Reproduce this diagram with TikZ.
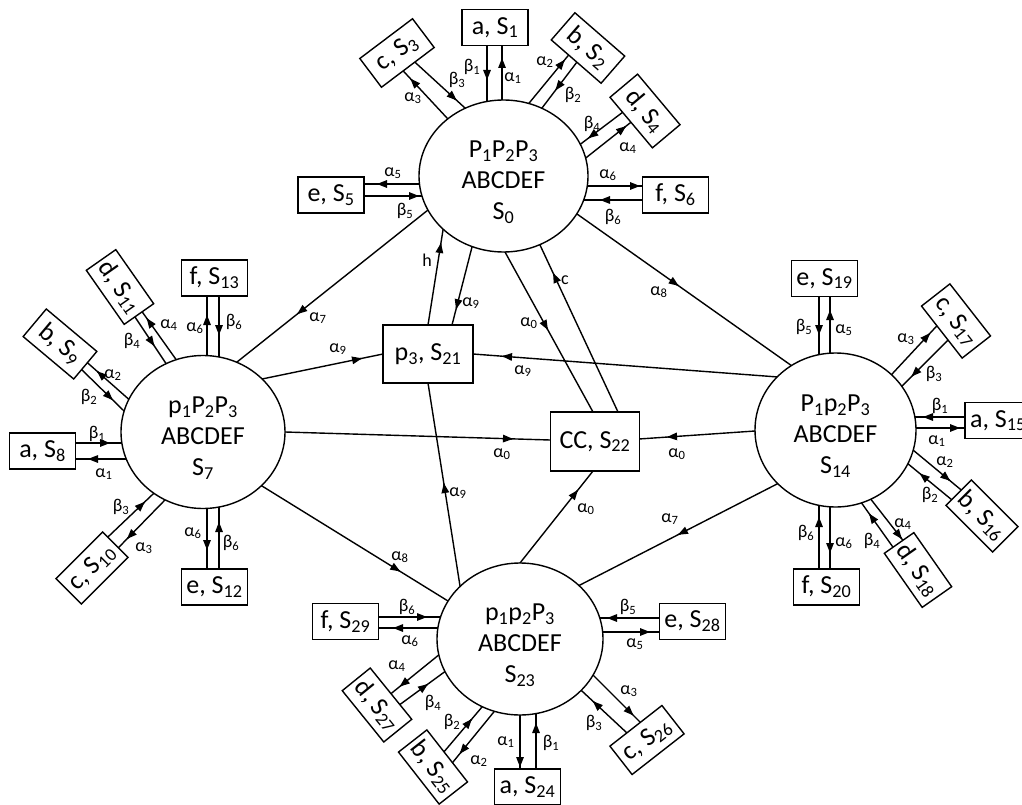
\documentclass[tikz,border=0pt]{standalone}
\usepackage{fontspec}
\setmainfont{Carlito}
\usetikzlibrary{shapes.geometric,arrows.meta,calc}
\pgfdeclarelayer{bg}
\pgfdeclarelayer{fg}
\pgfsetlayers{bg,main,fg}
\newcommand\subs[1]{\textsubscript{#1}}
\newcommand\alp[1]{α\textsubscript{#1}}
\newcommand\bet[1]{β\textsubscript{#1}}
\newcounter{lc}
\newcommand\lb[2]{\stepcounter{lc}\node[lab] (L\arabic{lc}) at #1 {#2};}
\newcommand\arw[3]{%
  \begin{pgfonlayer}{bg}\draw[ln] ($#1!-14pt!#2$) -- ($#2!-14pt!#1$);\end{pgfonlayer}%
  \begin{pgfonlayer}{fg}\coordinate (hh) at ($#1!#3!#2$);\draw[hd] ($(hh)!1pt!#1$) -- (hh);\end{pgfonlayer}%
}
\tikzset{
  ln/.style={line width=1.4pt},
  hd/.style={line width=1.4pt,-{Triangle[length=10pt,width=7.5pt]}},
  ell/.style={ellipse,draw,fill=white,line width=1.4pt,inner sep=0pt},
  sat/.style={rectangle,draw,fill=white,line width=1.4pt,minimum width=66pt,minimum height=36pt,inner sep=0pt,font=\fontsize{26}{28}\selectfont},
  mid/.style={rectangle,draw,fill=white,line width=1.4pt,minimum width=90pt,minimum height=58pt,inner sep=0pt,font=\fontsize{26}{30}\selectfont},
  etxt/.style={align=center,inner sep=0pt,font=\fontsize{26}{31}\selectfont},
  lab/.style={inner sep=0pt,font=\fontsize{18}{20}\selectfont},
}
\begin{document}
\begin{tikzpicture}[x=1pt,y=-1pt]
\useasboundingbox (0,0) rectangle (1022,805);
\begin{pgfonlayer}{bg}\fill[white] (0,0) rectangle (1022,805);\end{pgfonlayer}

% ---------- connectors: S0 satellites
\arw{(487,45)}{(487,101)}{(487,80)}
\arw{(502,100)}{(502,45)}{(502,58)}
\arw{(530,102)}{(567,57)}{(565,60)}
\arw{(577,62)}{(542,108)}{(555,90)}
\arw{(447,118)}{(407,75)}{(410,79)}
\arw{(418,65)}{(465,108)}{(457,100)}
\arw{(587,157)}{(630,123)}{(626,126)}
\arw{(623,112)}{(582,143)}{(588,138)}
\arw{(420,184)}{(364,184)}{(377,184)}
\arw{(364,196)}{(421,196)}{(419,196)}
\arw{(588,186)}{(643,186)}{(640,186)}
\arw{(643,200)}{(588,200)}{(600,200)}
% ---------- S7 satellites
\arw{(207,357)}{(207,295)}{(207,315)}
\arw{(219,295)}{(219,357)}{(219,335)}
\arw{(207,508)}{(207,569)}{(207,550)}
\arw{(219,569)}{(219,508)}{(219,522)}
\arw{(75,443)}{(122,443)}{(110,443)}
\arw{(125,459)}{(75,459)}{(88,459)}
\arw{(133,403)}{(90,365)}{(97,371)}
\arw{(80,368)}{(123,410)}{(112,401)}
\arw{(175,358)}{(143,313)}{(147,318)}
\arw{(135,317)}{(165,362)}{(153,347)}
\arw{(110,535)}{(152,495)}{(145,502)}
\arw{(163,502)}{(123,543)}{(127,539)}
% ---------- S14 satellites
\arw{(819,297)}{(819,355)}{(819,335)}
\arw{(830,354)}{(830,297)}{(830,310)}
\arw{(819,569)}{(819,505)}{(819,517)}
\arw{(830,506)}{(830,569)}{(830,553)}
\arw{(965,417)}{(915,417)}{(923,417)}
\arw{(914,428)}{(965,428)}{(960,428)}
\arw{(893,373)}{(933,330)}{(930,333)}
\arw{(945,343)}{(903,385)}{(912,377)}
\arw{(913,450)}{(960,489)}{(951,480)}
\arw{(952,500)}{(907,463)}{(920,473)}
\arw{(873,502)}{(905,543)}{(902,539)}
\arw{(895,550)}{(863,505)}{(870,513)}
% ---------- S23 satellites
\arw{(520,715)}{(520,770)}{(520,767)}
\arw{(536,770)}{(536,714)}{(536,723)}
\arw{(660,618)}{(600,618)}{(607,618)}
\arw{(602,632)}{(660,632)}{(650,632)}
\arw{(378,617)}{(440,617)}{(427,617)}
\arw{(440,628)}{(378,628)}{(393,628)}
\arw{(435,658)}{(393,692)}{(400,687)}
\arw{(402,703)}{(443,673)}{(428,684)}
\arw{(493,713)}{(453,762)}{(460,754)}
\arw{(443,753)}{(482,707)}{(472,719)}
\arw{(595,677)}{(638,720)}{(633,716)}
\arw{(627,733)}{(583,692)}{(593,701)}
% ---------- inter-node connectors
\arw{(428,210)}{(237,362)}{(297,314)}
\arw{(262,379)}{(383,354)}{(362,358)}
\arw{(778,377)}{(473,354)}{(502,356)}
\arw{(285,432)}{(550,440)}{(513,439)}
\arw{(755,431)}{(639,439)}{(667,437)}
\arw{(505,252)}{(593,412)}{(548,330)}
\arw{(618,412)}{(540,245)}{(553,273)}
\arw{(428,325)}{(443,230)}{(441,243)}
\arw{(472,247)}{(452,325)}{(455,309)}
\arw{(460,586)}{(428,383)}{(444,483)}
\arw{(520,563)}{(593,471)}{(578,490)}
\arw{(262,486)}{(448,601)}{(400,572)}
\arw{(577,214)}{(792,366)}{(678,287)}
\arw{(777,484)}{(580,585)}{(678,535)}

% ---------- main states
\node[ell,minimum width=169pt,minimum height=152pt] (S0) at (503.5,176) {};
\node[ell,minimum width=164pt,minimum height=153pt] (S7) at (203,432) {};
\node[ell,minimum width=161pt,minimum height=154pt] (S14) at (835.5,430) {};
\node[ell,minimum width=166pt,minimum height=152pt] (S23) at (520,639) {};
\node[etxt] (T0) at (503.5,182) {P\subs{1}P\subs{2}P\subs{3}\\ABCDEF\\S\subs{0}};
\node[etxt] (T7) at (203,438) {p\subs{1}P\subs{2}P\subs{3}\\ABCDEF\\S\subs{7}};
\node[etxt] (T14) at (835.5,436) {P\subs{1}p\subs{2}P\subs{3}\\ABCDEF\\S\subs{14}};
\node[etxt] (T23) at (520,645) {p\subs{1}p\subs{2}P\subs{3}\\ABCDEF\\S\subs{23}};
\node[mid] (S21) at (428,354) {p\subs{3}, S\subs{21}};
\node[mid,minimum width=89pt,minimum height=59pt] (S22) at (595,441.5) {CC, S\subs{22}};

% ---------- satellites
\node[sat] (S1) at (495,27.5) {a, S\subs{1}};
\node[sat,rotate=-41] (S2) at (588,48) {b, S\subs{2}};
\node[sat,rotate=37] (S3) at (397,53) {c, S\subs{3}};
\node[sat,rotate=-50] (S4) at (645,111) {d, S\subs{4}};
\node[sat] (S5) at (331,195) {e, S\subs{5}};
\node[sat] (S6) at (675.5,195) {f, S\subs{6}};

\node[sat] (S13) at (214.5,278) {f, S\subs{13}};
\node[sat] (S12) at (214.5,587) {e, S\subs{12}};
\node[sat] (S8) at (42.5,451) {a, S\subs{8}};
\node[sat,rotate=-40] (S9) at (60,344) {b, S\subs{9}};
\node[sat,rotate=-55] (S11) at (120,287) {d, S\subs{11}};
\node[sat,rotate=45] (S10) at (92,568) {c, S\subs{10}};

\node[sat] (S19) at (824.5,278.5) {e, S\subs{19}};
\node[sat] (S20) at (826.5,587) {f, S\subs{20}};
\node[sat] (S15) at (998,420.5) {a, S\subs{15}};
\node[sat,rotate=-52] (S17) at (956,321) {c, S\subs{17}};
\node[sat,rotate=-45] (S16) at (982,516) {b, S\subs{16}};
\node[sat,rotate=-55] (S18) at (918,570) {d, S\subs{18}};

\node[sat] (S24) at (527.5,787) {a, S\subs{24}};
\node[sat] (S28) at (692.5,621.5) {e, S\subs{28}};
\node[sat] (S29) at (345.5,621.5) {f, S\subs{29}};
\node[sat,rotate=-51] (S27) at (377,705) {d, S\subs{27}};
\node[sat,rotate=-52] (S25) at (433,767) {b, S\subs{25}};
\node[sat,rotate=38] (S26) at (647,740) {c, S\subs{26}};

% ---------- labels
\lb{(472,67)}{\bet{1}} \lb{(513,78)}{\alp{1}} \lb{(545,62)}{\alp{2}} \lb{(573,95)}{\bet{2}}
\lb{(413,98)}{\alp{3}} \lb{(457,80)}{\bet{3}} \lb{(592,124)}{\bet{4}} \lb{(628,148)}{\alp{4}}
\lb{(393,173)}{\alp{5}} \lb{(405,211)}{\bet{5}} \lb{(608,175)}{\alp{6}} \lb{(613,217)}{\bet{6}}

\lb{(195,328)}{\alp{6}} \lb{(234,322)}{\bet{6}} \lb{(193,533)}{\alp{6}} \lb{(231,543)}{\bet{6}}
\lb{(97,434)}{\bet{1}} \lb{(104,474)}{\alp{1}} \lb{(113,375)}{\alp{2}} \lb{(89,397)}{\bet{2}}
\lb{(169,325)}{\alp{4}} \lb{(132,341)}{\bet{4}} \lb{(121,507)}{\bet{3}} \lb{(144,548)}{\alp{3}}

\lb{(804,327)}{\bet{5}} \lb{(844,330)}{\alp{5}} \lb{(806,533)}{\bet{6}} \lb{(844,543)}{\alp{6}}
\lb{(940,406)}{\bet{1}} \lb{(937,441)}{\alp{1}} \lb{(906,339)}{\alp{3}} \lb{(934,374)}{\bet{3}}
\lb{(945,462)}{\alp{2}} \lb{(930,495)}{\bet{2}} \lb{(903,524)}{\alp{4}} \lb{(872,541)}{\bet{4}}

\lb{(506,742)}{\alp{1}} \lb{(551,743)}{\bet{1}} \lb{(628,607)}{\bet{5}} \lb{(635,644)}{\alp{5}}
\lb{(407,607)}{\bet{6}} \lb{(410,641)}{\alp{6}} \lb{(397,666)}{\alp{4}} \lb{(433,703)}{\bet{4}}
\lb{(452,722)}{\bet{2}} \lb{(479,761)}{\alp{2}} \lb{(629,691)}{\alp{3}} \lb{(594,723)}{\bet{3}}

\lb{(318,318)}{\alp{7}} \lb{(338,349)}{\alp{9}} \lb{(523,371)}{\alp{9}} \lb{(502,454)}{\alp{0}}
\lb{(677,454)}{\alp{0}} \lb{(529,323)}{\alp{0}} \lb{(565,280)}{c} \lb{(427,260)}{h}
\lb{(471,303)}{\alp{9}} \lb{(458,493)}{\alp{9}} \lb{(586,509)}{\alp{0}} \lb{(400,557)}{\alp{8}}
\lb{(659,292)}{\alp{8}} \lb{(670,519)}{\alp{7}}
\end{tikzpicture}
\end{document}
